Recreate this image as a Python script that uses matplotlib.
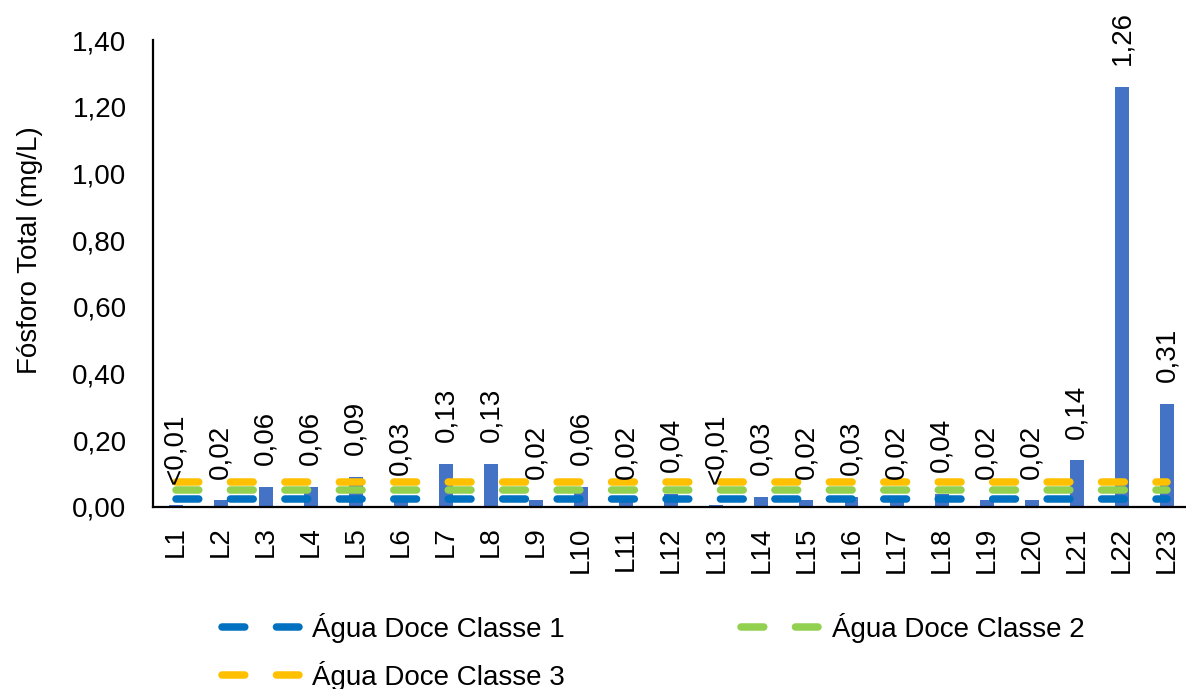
import matplotlib
matplotlib.use("Agg")
import matplotlib.pyplot as plt
from matplotlib.lines import Line2D
from matplotlib.ticker import FuncFormatter

# Total phosphorus per sampling point (mg/L); values below 0.01 are flagged "<0,01"
points = [f"L{i}" for i in range(1, 24)]
fosforo = [0.005, 0.02, 0.06, 0.06, 0.09, 0.03, 0.13, 0.13, 0.02, 0.06, 0.02, 0.04,
           0.005, 0.03, 0.02, 0.03, 0.02, 0.04, 0.02, 0.02, 0.14, 1.26, 0.31]

# Freshwater class limits (mg/L)
limit_names = ["Água Doce Classe 1", "Água Doce Classe 2", "Água Doce Classe 3"]
limit_values = [0.025, 0.05, 0.075]
limit_colors = ["#0070C0", "#92D050", "#FFC000"]

bar_color = "#4472C4"
y_ticks = [0.0, 0.2, 0.4, 0.6, 0.8, 1.0, 1.2, 1.4]

FS = 20
plt.rcParams["font.family"] = ["Liberation Sans", "DejaVu Sans"]
plt.rcParams["font.size"] = FS
plt.rcParams["lines.scale_dashes"] = False

W, H = 1186, 689
fig = plt.figure(figsize=(W / 100, H / 100), dpi=100)
ax = fig.add_axes([153 / W, (H - 507) / H, 1036.5 / W, 467 / H])

x = list(range(len(points)))
ax.bar(x, fosforo, width=0.31, color=bar_color, zorder=2)

dash = (16.4, 22.8)
lw = 5.4
for val, col, name in zip(limit_values, limit_colors, limit_names):
    ax.plot(x, [val] * len(x), color=col, lw=lw, dashes=dash,
            dash_capstyle="round", solid_capstyle="round", zorder=3, label=name)


def fmt_val(v):
    if v < 0.01:
        return "<0,01"
    return f"{v:.2f}".replace(".", ",")


for xi, v in zip(x, fosforo):
    ax.annotate(fmt_val(v), xy=(xi, v), xytext=(0, 15.5), textcoords="offset points",
                rotation=90, ha="center", va="bottom", fontsize=FS, zorder=4,
                annotation_clip=False)

ax.set_xlim(-0.5, len(points) - 0.5)
ax.set_ylim(0, 1.4)
ax.set_yticks(y_ticks)
ax.yaxis.set_major_formatter(FuncFormatter(lambda v, p: f"{v:.2f}".replace(".", ",")))
ax.set_xticks(x)
ax.set_xticklabels(points, rotation=90)
ax.tick_params(axis="y", length=0, pad=19)
ax.tick_params(axis="x", length=0, pad=14)

for side in ("top", "right"):
    ax.spines[side].set_visible(False)
for side in ("left", "bottom"):
    ax.spines[side].set_linewidth(1.6)
    ax.spines[side].set_color("black")

ax.set_ylabel("Fósforo Total (mg/L)", ha="center", va="center")
ax.yaxis.set_label_coords((30 - 153) / 1036.5, (507 - 250) / 467)

# Legend: two entries on the first row, the third below on the left
handles = [Line2D([0], [0], color=c, lw=lw, dashes=dash, dash_capstyle="round")
           for c in limit_colors]
placements = [(221.5, 628), (740.5, 628), (221.5, 676)]
px_per_em = FS * 100 / 72
for h, name, (px, py) in zip(handles, limit_names, placements):
    fig.legend([h], [name], loc="center left", bbox_to_anchor=(px / W, 1 - py / H),
               frameon=False, borderpad=0, borderaxespad=0, numpoints=1,
               handlelength=77 / px_per_em, handletextpad=14 / px_per_em, fontsize=FS)

fig.savefig("out.png", dpi=100)
